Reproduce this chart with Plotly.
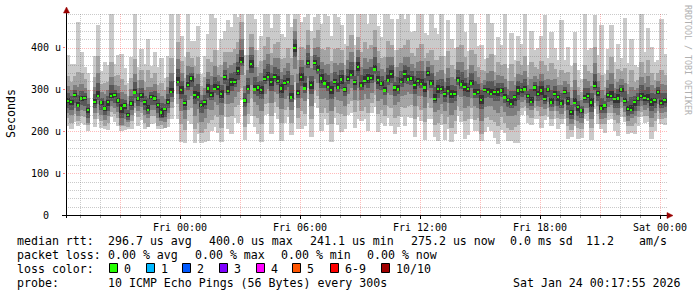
import numpy as np
import pandas as pd
import plotly.graph_objects as go

# ---------------- data (microseconds) ----------------
start_time = "2026-01-22 18:18"
step_minutes = 10

median_us = [
    273, 271, 287, 262, 279, 280, 251, None, 271, 285,
    269, 255, 270, 285, 287, 274, 255, 262, 240, 267,
    293, 279, 287, 271, 251, 282, 279, 263, 245, 253,
    271, 295, None, 319, 299, 268, 311, 327, 287, 283,
    263, 270, 303, 287, 301, 306, 290, 330, 296, 319,
    318, 345, 366, 274, 302, 362, 300, 305, 299, 325,
    331, 318, 330, 320, 303, 316, 319, 281, 400, 292,
    331, 303, 363, 311, 364, 347, 327, 315, 306, 299,
    318, 305, 324, 300, 325, 335, 318, 355, 310, 320,
    327, 328, 348, 323, 315, 298, 322, 338, 305, 300,
    319, 338, 324, 327, 311, 320, 314, 305, 340, 315,
    277, 302, 301, 290, 297, 290, 290, 322, 312, 307,
    302, 315, 290, 295, 276, 299, 295, 290, 294, 295,
    298, 281, 276, 266, 282, 298, 299, 300, 285, 271,
    305, 290, 298, 278, 300, 269, 290, 282, 267, 295,
    273, 246, 268, 258, 250, 280, 285, 269, 308, 292,
    255, 262, 287, 284, 277, 279, 300, 272, 254, 252,
    270, 279, 285, 280, 277, 271, 275, 295, 268, 275,
]

ping1_us = [
    213, 205, 222, 212, 219, 215, 200, None, 211, 230,
    208, 206, 204, 235, 222, 214, 200, 203, 205, 207,
    243, 214, 227, 205, 210, 217, 219, 206, 205, 208,
    211, 230, None, 230, 174, 173, 226, 217, 172, 193,
    173, 175, 178, 202, 211, 196, 175, 235, 206, 194,
    233, 220, 276, 179, 217, 237, 210, 195, 174, 240,
    241, 193, 245, 230, 178, 221, 234, 191, 275, 207,
    206, 213, 278, 186, 269, 257, 202, 230, 216, 174,
    233, 215, 199, 205, 240, 245, 208, 230, 225, 230,
    202, 243, 258, 198, 220, 213, 232, 213, 195, 210,
    234, 213, 234, 232, 186, 235, 224, 180, 230, 230,
    187, 177, 216, 180, 207, 175, 195, 237, 222, 182,
    192, 230, 200, 200, 176, 199, 210, 200, 184, 170,
    203, 196, 176, 176, 172, 173, 239, 250, 220, 216,
    230, 230, 208, 228, 235, 214, 230, 207, 217, 230,
    183, 186, 213, 183, 185, 230, 225, 179, 253, 217,
    205, 197, 227, 229, 202, 189, 235, 222, 194, 197,
    195, 214, 235, 220, 222, 181, 200, 230, 218, 215,
]

ping2_us = [
    231, 221, 242, 224, 237, 235, 215, None, 229, 245,
    224, 213, 220, 247, 242, 232, 212, 212, 210, 225,
    255, 234, 245, 221, 211, 237, 237, 213, 215, 208,
    229, 257, None, 265, 217, 204, 251, 255, 205, 221,
    196, 206, 221, 227, 239, 234, 208, 266, 234, 237,
    258, 263, 304, 210, 242, 280, 238, 233, 217, 265,
    269, 236, 270, 258, 221, 252, 259, 219, 318, 232,
    249, 241, 303, 229, 300, 285, 245, 255, 244, 217,
    258, 243, 242, 236, 265, 273, 246, 273, 250, 258,
    245, 268, 286, 241, 251, 238, 260, 256, 233, 238,
    259, 256, 262, 263, 229, 260, 252, 223, 268, 255,
    215, 220, 241, 218, 235, 208, 226, 262, 250, 225,
    230, 255, 228, 231, 194, 232, 235, 228, 222, 213,
    234, 221, 209, 204, 210, 216, 257, 262, 240, 231,
    255, 248, 238, 240, 255, 229, 248, 232, 229, 250,
    213, 204, 228, 208, 205, 242, 243, 209, 268, 242,
    217, 217, 245, 244, 227, 219, 255, 234, 212, 212,
    220, 234, 247, 238, 237, 211, 225, 250, 230, 233,
]

ping3_us = [
    245, 239, 257, 237, 251, 250, 219, None, 243, 265,
    239, 227, 238, 260, 257, 246, 215, 230, 222, 239,
    268, 249, 259, 239, 231, 252, 251, 231, 225, 223,
    243, 270, None, 290, 249, 230, 276, 285, 237, 253,
    223, 232, 253, 252, 271, 264, 240, 292, 266, 269,
    283, 295, 336, 236, 267, 312, 270, 263, 249, 290,
    301, 268, 295, 290, 253, 278, 284, 251, 350, 257,
    281, 273, 328, 261, 326, 317, 277, 280, 276, 249,
    283, 275, 274, 262, 290, 305, 276, 305, 275, 290,
    277, 293, 318, 273, 277, 263, 292, 288, 263, 270,
    284, 288, 294, 289, 261, 285, 284, 255, 298, 280,
    247, 252, 266, 248, 267, 240, 252, 287, 282, 257,
    260, 280, 260, 257, 226, 259, 260, 260, 252, 245,
    260, 246, 236, 236, 240, 248, 271, 275, 255, 251,
    273, 262, 258, 253, 270, 249, 262, 250, 242, 265,
    233, 218, 248, 226, 220, 255, 257, 229, 288, 260,
    230, 232, 259, 264, 245, 239, 270, 247, 226, 232,
    238, 249, 260, 252, 257, 231, 243, 265, 243, 247,
]

ping4_us = [
    257, 251, 269, 250, 263, 262, 231, None, 255, 275,
    251, 239, 250, 273, 269, 258, 233, 242, 228, 251,
    281, 261, 271, 251, 241, 264, 263, 243, 233, 235,
    255, 283, None, 309, 277, 252, 299, 307, 265, 273,
    245, 254, 281, 275, 291, 286, 268, 314, 286, 297,
    306, 323, 356, 258, 290, 340, 290, 285, 277, 313,
    321, 296, 318, 310, 281, 300, 307, 271, 378, 280,
    309, 293, 351, 289, 348, 337, 305, 303, 296, 277,
    306, 295, 302, 284, 313, 325, 298, 333, 298, 310,
    305, 316, 338, 301, 299, 286, 312, 316, 285, 290,
    307, 316, 314, 311, 289, 308, 304, 283, 320, 303,
    267, 280, 289, 270, 287, 268, 274, 310, 302, 285,
    282, 303, 280, 279, 254, 281, 283, 280, 274, 273,
    282, 269, 258, 256, 262, 276, 283, 288, 267, 261,
    285, 274, 276, 266, 282, 259, 274, 262, 255, 277,
    251, 230, 258, 238, 232, 268, 269, 247, 298, 272,
    243, 244, 271, 274, 257, 257, 282, 260, 238, 242,
    250, 261, 273, 264, 267, 249, 255, 277, 256, 259,
]

ping5_us = [
    267, 263, 282, 258, 273, 275, 243, None, 265, 282,
    264, 249, 262, 281, 282, 268, 245, 254, 235, 261,
    289, 274, 281, 263, 248, 277, 273, 255, 235, 248,
    265, 291, None, 316, 289, 262, 307, 319, 277, 280,
    258, 264, 293, 283, 298, 298, 280, 324, 293, 309,
    314, 335, 363, 268, 298, 352, 297, 297, 289, 321,
    328, 308, 326, 317, 293, 310, 315, 278, 390, 288,
    321, 300, 359, 301, 358, 344, 317, 311, 303, 289,
    314, 302, 314, 294, 321, 332, 310, 345, 306, 317,
    317, 324, 345, 313, 309, 294, 319, 328, 297, 297,
    315, 328, 321, 321, 301, 316, 311, 295, 332, 311,
    274, 292, 297, 282, 294, 280, 284, 318, 309, 297,
    294, 311, 287, 289, 266, 294, 291, 287, 286, 285,
    292, 277, 271, 263, 274, 288, 293, 296, 280, 268,
    297, 284, 288, 274, 295, 266, 284, 274, 263, 290,
    263, 240, 265, 250, 245, 276, 279, 259, 305, 284,
    251, 257, 281, 281, 269, 269, 295, 268, 248, 249,
    262, 274, 281, 274, 274, 261, 267, 290, 264, 269,
]

ping6_us = [
    279, 276, 291, 270, 285, 284, 256, None, 277, 297,
    273, 261, 275, 293, 291, 280, 265, 267, 244, 273,
    301, 283, 293, 276, 263, 286, 285, 268, 255, 257,
    277, 303, None, 331, 309, 274, 319, 332, 297, 295,
    267, 276, 313, 295, 313, 311, 300, 336, 308, 329,
    326, 355, 378, 280, 310, 372, 312, 310, 309, 333,
    343, 328, 338, 332, 313, 322, 327, 293, 410, 300,
    341, 315, 371, 321, 370, 359, 337, 323, 318, 309,
    326, 317, 334, 306, 333, 347, 323, 365, 318, 332,
    337, 336, 360, 333, 321, 306, 334, 348, 310, 312,
    327, 348, 336, 333, 321, 328, 326, 315, 345, 323,
    289, 312, 309, 295, 309, 300, 296, 330, 324, 317,
    307, 323, 302, 301, 286, 303, 303, 302, 299, 305,
    304, 289, 280, 278, 287, 308, 305, 308, 289, 283,
    310, 296, 308, 286, 304, 281, 296, 287, 275, 299,
    283, 252, 280, 263, 254, 288, 291, 279, 320, 297,
    263, 266, 293, 296, 282, 289, 304, 280, 260, 264,
    275, 283, 293, 286, 289, 281, 280, 299, 276, 281,
]

ping7_us = [
    291, 285, 299, 287, 297, 292, 265, None, 289, 315,
    281, 273, 284, 310, 299, 292, 277, 276, 252, 285,
    318, 291, 305, 285, 281, 294, 297, 277, 267, 265,
    289, 320, None, 349, 321, 286, 336, 341, 309, 313,
    275, 288, 325, 312, 331, 320, 312, 348, 326, 341,
    343, 367, 396, 292, 327, 384, 330, 319, 321, 350,
    361, 340, 355, 350, 325, 334, 344, 311, 422, 317,
    353, 333, 388, 333, 382, 377, 349, 340, 336, 321,
    343, 335, 346, 318, 350, 365, 332, 377, 335, 350,
    349, 353, 378, 345, 333, 323, 352, 360, 319, 330,
    344, 360, 354, 345, 333, 345, 344, 327, 354, 340,
    307, 324, 326, 304, 327, 312, 308, 347, 342, 329,
    316, 340, 320, 313, 298, 311, 320, 320, 308, 317,
    316, 306, 288, 296, 296, 320, 317, 325, 297, 301,
    319, 308, 320, 303, 312, 299, 308, 296, 292, 307,
    295, 264, 298, 272, 262, 305, 303, 291, 338, 306,
    280, 274, 305, 314, 291, 301, 312, 297, 272, 282,
    284, 291, 310, 298, 307, 293, 289, 307, 293, 293,
]

ping8_us = [
    308, 299, 312, 307, 314, 305, 279, None, 306, 340,
    294, 290, 298, 330, 312, 309, 295, 290, 265, 302,
    338, 304, 322, 299, 306, 307, 314, 291, 285, 278,
    306, 340, None, 374, 339, 303, 356, 355, 327, 338,
    288, 305, 343, 332, 356, 334, 330, 365, 351, 359,
    363, 385, 421, 309, 347, 402, 355, 333, 339, 370,
    386, 358, 375, 375, 343, 351, 364, 336, 440, 337,
    371, 358, 408, 351, 399, 402, 367, 360, 361, 339,
    363, 360, 364, 335, 370, 390, 346, 395, 355, 375,
    367, 373, 403, 363, 350, 343, 377, 378, 333, 355,
    364, 378, 379, 362, 351, 365, 369, 345, 368, 360,
    332, 342, 346, 318, 352, 330, 325, 367, 367, 347,
    330, 360, 345, 330, 316, 324, 340, 345, 322, 335,
    333, 326, 301, 321, 310, 338, 334, 345, 310, 326,
    333, 325, 338, 323, 325, 324, 325, 310, 312, 320,
    313, 281, 323, 286, 275, 325, 320, 309, 363, 320,
    300, 287, 322, 339, 305, 319, 325, 317, 289, 307,
    298, 304, 330, 315, 332, 311, 303, 320, 313, 310,
]

ping9_us = [
    333, 319, 332, 342, 339, 325, 299, None, 331, 380,
    314, 315, 318, 365, 332, 334, 325, 310, 285, 327,
    373, 324, 347, 319, 346, 327, 339, 311, 315, 298,
    331, 375, None, 414, 369, 328, 391, 375, 357, 378,
    308, 330, 373, 367, 396, 354, 360, 390, 391, 389,
    398, 415, 461, 334, 382, 432, 395, 353, 369, 405,
    426, 388, 410, 415, 373, 376, 399, 376, 470, 372,
    401, 398, 443, 381, 424, 442, 397, 395, 401, 369,
    398, 400, 394, 360, 405, 430, 366, 425, 390, 415,
    397, 408, 443, 393, 375, 378, 417, 408, 353, 395,
    399, 408, 419, 387, 381, 400, 409, 375, 388, 395,
    372, 372, 381, 338, 392, 360, 350, 402, 407, 377,
    350, 395, 385, 355, 346, 344, 375, 385, 342, 365,
    358, 361, 321, 361, 330, 368, 359, 380, 330, 366,
    353, 350, 368, 358, 345, 364, 350, 330, 347, 340,
    343, 306, 363, 306, 295, 360, 345, 339, 403, 340,
    335, 307, 347, 379, 325, 349, 345, 352, 314, 347,
    318, 324, 365, 340, 372, 341, 323, 340, 348, 335,
]

ping10_us = [
    383, 361, 362, 462, 389, 355, 341, None, 381, 455,
    344, 365, 360, 485, 362, 384, 385, 352, 315, 377,
    493, 354, 397, 361, 421, 357, 389, 353, 375, 328,
    381, 495, None, 489, 429, 378, 511, 417, 417, 453,
    338, 380, 433, 487, 471, 396, 420, 440, 466, 449,
    518, 475, 536, 384, 502, 492, 470, 395, 429, 525,
    501, 448, 530, 490, 433, 426, 519, 451, 530, 492,
    461, 473, 563, 441, 474, 517, 457, 515, 476, 429,
    518, 475, 454, 410, 525, 505, 408, 485, 510, 490,
    457, 528, 518, 453, 425, 498, 492, 468, 395, 470,
    519, 468, 494, 437, 441, 520, 484, 435, 430, 515,
    447, 432, 501, 380, 467, 420, 400, 522, 482, 437,
    392, 515, 460, 405, 406, 374, 495, 460, 384, 425,
    408, 481, 351, 436, 372, 428, 409, 500, 360, 441,
    395, 400, 428, 478, 375, 439, 400, 372, 467, 370,
    403, 356, 438, 348, 325, 480, 395, 399, 478, 382,
    455, 337, 397, 454, 367, 409, 375, 472, 364, 422,
    360, 354, 485, 390, 447, 401, 365, 370, 468, 385,
]

y_tick_values = [0, 100, 200, 300, 400]
y_tick_labels = ["0\u00a0\u00a0", "100 u", "200 u", "300 u", "400 u"]

legend_rtt = ["296.7 us avg", "400.0 us max", "241.1 us min", "275.2 us now", "0.0 ms sd", "11.2", "am/s"]
legend_loss = ["0.00 % avg", "0.00 % max", "0.00 % min", "0.00 % now"]
loss_labels = ["0", "1", "2", "3", "4", "5", "6-9", "10/10"]
loss_colors = ["#26ff00", "#00b8ff", "#0059ff", "#7e00ff", "#ff00ff", "#ff5500", "#ff0000", "#a00000"]
probe_text = "10 ICMP Echo Pings (56 Bytes) every 300s"
stamp_text = "Sat Jan 24 00:17:55 2026"

smoke_colors = ["#cacaca", "#a4a4a4", "#7e7e7e", "#585858", "#323232"]

# ---------------- geometry ----------------
W, H = 697, 297
PL, PR, PT, PB = 66, 668, 14, 215          # plot area in px
PW, PH = PR - PL, PB - PT
YMAX = 481.0
X0 = pd.Timestamp("2026-01-22 18:18")
X1 = pd.Timestamp("2026-01-24 00:24")


def px_x(px):
    return (px - PL) / PW


def px_y(py):
    return (PB - py) / PH


MONO = "DejaVu Sans Mono"

# ---------------- traces ----------------
times = pd.date_range(start_time, periods=len(median_us), freq=f"{step_minutes}min")
pings = [np.array(p, dtype=float) for p in (ping1_us, ping2_us, ping3_us, ping4_us, ping5_us,
                                            ping6_us, ping7_us, ping8_us, ping9_us, ping10_us)]
med = np.array(median_us, dtype=float)
for p in pings:
    assert len(p) == len(med)

fig = go.Figure()
step_ms = step_minutes * 60 * 1000
for i in range(5):
    lo, hi = pings[i], pings[9 - i]
    fig.add_trace(go.Bar(
        x=times, base=lo, y=hi - lo, width=step_ms * 1.3, offset=0,
        marker=dict(color=smoke_colors[i], line=dict(width=0)),
        hoverinfo="skip", showlegend=False))

med_h = np.where(np.isnan(med), np.nan, 5.5)
fig.add_trace(go.Bar(
    x=times, base=med - 2.75, y=med_h, width=step_ms * 0.7, offset=step_ms * 0.15,
    marker=dict(color=loss_colors[0], line=dict(width=0)),
    hoverinfo="skip", showlegend=False))

# ---------------- grid (drawn above the smoke, like rrdtool) ----------------
shapes = []
K = PH / YMAX
MAJOR_C = "rgba(255,0,0,0.27)"
MINOR_C = "rgba(128,128,128,0.42)"
for v in range(20, 481, 20):
    row = round(PB - v * K)
    vs = (PB - (row + 0.5)) / K
    major = v % 100 == 0
    shapes.append(dict(type="line", xref="paper", yref="y", x0=0, x1=1, y0=vs, y1=vs,
                       line=dict(color=MAJOR_C if major else MINOR_C, width=1, dash="1px,1px"),
                       layer="above"))
for t in pd.date_range("2026-01-22 19:00", "2026-01-24 00:00", freq="1h"):
    major = t.hour % 3 == 0
    tx = t + pd.Timedelta(seconds=90)
    shapes.append(dict(type="line", xref="x", yref="paper", x0=tx, x1=tx, y0=0, y1=1,
                       line=dict(color=MAJOR_C if major else MINOR_C, width=1, dash="1px,1px"),
                       layer="above"))

# axes lines with arrows
shapes.append(dict(type="line", xref="paper", yref="paper", x0=px_x(62), x1=px_x(670),
                   y0=px_y(215.5), y1=px_y(215.5), line=dict(color="black", width=1), layer="above"))
shapes.append(dict(type="line", xref="paper", yref="paper", x0=px_x(66.5), x1=px_x(66.5),
                   y0=px_y(218), y1=px_y(11), line=dict(color="black", width=1), layer="above"))
arrow_c = "#990000"
shapes.append(dict(type="path", xref="paper", yref="paper",
                   path=f"M {px_x(667)} {px_y(212.5)} L {px_x(673)} {px_y(215.5)} L {px_x(667)} {px_y(218.5)} Z",
                   fillcolor=arrow_c, line=dict(color=arrow_c, width=0.5), layer="above"))
shapes.append(dict(type="path", xref="paper", yref="paper",
                   path=f"M {px_x(63.5)} {px_y(13)} L {px_x(66.5)} {px_y(7)} L {px_x(69.5)} {px_y(13)} Z",
                   fillcolor=arrow_c, line=dict(color=arrow_c, width=0.5), layer="above"))

# ---------------- text ----------------
ann = []
LF = 11.6


def text(s, x, y, xanchor="left", size=LF, color="black", angle=0):
    ann.append(dict(text=s, xref="paper", yref="paper", x=px_x(x), y=px_y(y),
                    xanchor=xanchor, yanchor="middle", showarrow=False, textangle=angle,
                    font=dict(family=MONO, size=size, color=color), borderpad=0))


text("Seconds", 11, 114, xanchor="center", angle=-90)
text("RRDTOOL / TOBI OETIKER", 688, 60, xanchor="center", size=8.3, color="#b0b0b0", angle=90)

row1, row2, row3, row4 = 241.2, 255.4, 268.8, 283.4
text("median rtt:", 16, row1)
for s, x in zip(legend_rtt, [107, 207.5, 308.5, 409.5, 508.5, 585, 637.5]):
    text(s, x, row1)
text("packet loss:", 16, row2)
for s, x in zip(legend_loss, [107, 193.5, 279.5, 365.5]):
    text(s, x, row2)
text("loss color:", 16, row3)
sw_left = [109, 146, 182, 219, 256, 292, 330, 381]
for s, c, x in zip(loss_labels, loss_colors, sw_left):
    shapes.append(dict(type="rect", xref="paper", yref="paper",
                       x0=px_x(x + 0.5), x1=px_x(x + 8.5), y0=px_y(263.5), y1=px_y(272.5),
                       fillcolor=c, line=dict(color="black", width=1), layer="above"))
    text(s, x + 14, row3)
text("probe:", 16, row4)
text(probe_text, 107, row4)
text(stamp_text, 682, row4, xanchor="right")

fig.update_layout(
    width=W, height=H, autosize=False,
    margin=dict(l=PL, r=W - PR, t=PT, b=H - PB, pad=0),
    paper_bgcolor="white", plot_bgcolor="white",
    barmode="overlay", bargap=0, showlegend=False,
    shapes=shapes, annotations=ann,
    xaxis=dict(type="date", range=[X0, X1], tickformat="%a %H:%M",
               tick0="2026-01-23 00:00", dtick=6 * 3600 * 1000,
               showgrid=False, zeroline=False, showline=False,
               ticks="outside", ticklen=3, tickcolor="black", tickwidth=1,
               minor=dict(dtick=3600 * 1000, ticks="outside", ticklen=2, tickcolor="#999999", showgrid=False),
               tickfont=dict(family=MONO, size=10, color="black"), automargin=False, fixedrange=True),
    yaxis=dict(range=[0, YMAX], tickvals=y_tick_values, ticktext=y_tick_labels,
               showgrid=False, zeroline=False, showline=False,
               ticks="outside", ticklen=2, tickcolor="rgba(255,0,0,0.5)",
               tickfont=dict(family=MONO, size=10, color="black"), automargin=False, fixedrange=True),
)

fig.write_html("out.html", config={"displayModeBar": False, "staticPlot": True})
